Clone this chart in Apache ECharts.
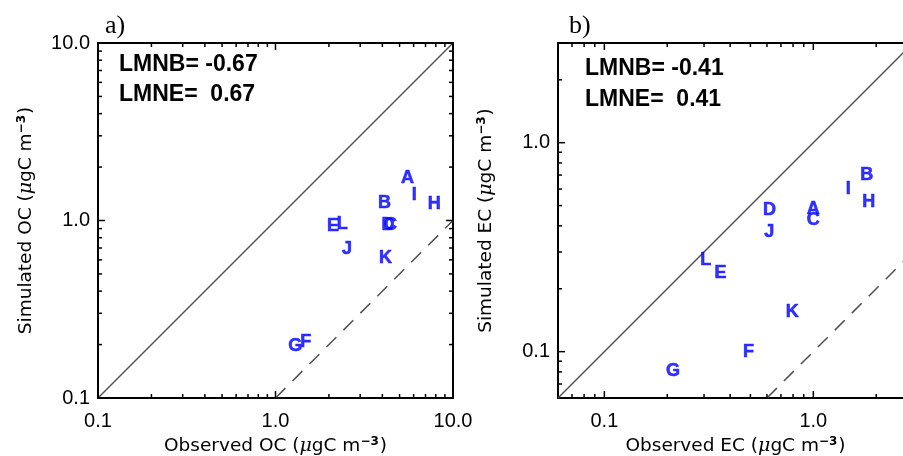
<!DOCTYPE html>
<html>
<head>
<meta charset="utf-8">
<script src="https://cdn.jsdelivr.net/npm/echarts@6/dist/echarts.min.js"></script>
<style>
  html, body { margin: 0; padding: 0; background: #fff; }
  #wrap { position: relative; width: 903px; height: 456px; }
  #chart, #ticks { position: absolute; left: 0; top: 0; width: 903px; height: 456px; }
  #ticks { pointer-events: none; }
</style>
</head>
<body>
<div id="wrap">
  <div id="chart"></div>
  <div id="ticks"></div>
</div>
<script>
// site letters, same order in both panels
const letters = ['A', 'B', 'C', 'D', 'E', 'F', 'G', 'H', 'I', 'J', 'K', 'L'];

// panel a) organic carbon
const ocObserved  = [5.54, 4.11, 4.45, 4.30, 2.11, 1.48, 1.29, 7.83, 6.04, 2.53, 4.17, 2.38];
const ocSimulated = [1.74, 1.26, 0.94, 0.94, 0.936, 0.208, 0.197, 1.24, 1.39, 0.695, 0.611, 0.952];

// panel b) elemental carbon
const ecObserved  = [1.00, 1.80, 1.00, 0.617, 0.360, 0.490, 0.213, 1.84, 1.47, 0.615, 0.794, 0.306];
const ecSimulated = [0.479, 0.698, 0.428, 0.478, 0.239, 0.0993, 0.081, 0.520, 0.598, 0.373, 0.155, 0.275];

// reference lines (1:1 solid, 1:10 dashed)
const ocOneToOne = [[0.1, 0.1], [10, 10]];
const ocOneToTen = [[1, 0.1], [10, 1]];
const ecOneToOne = [[0.06, 0.06], [3, 3]];
const ecOneToTen = [[0.6, 0.06], [3, 0.3]];

// axis ranges and ticks
const ocRange = [0.1, 10];
const ecRange = [0.06, 3];
const ocMajorTicks = [0.1, 1, 10];
const ocMinorTicks = [0.2, 0.3, 0.4, 0.5, 0.6, 0.7, 0.8, 0.9, 2, 3, 4, 5, 6, 7, 8, 9];
const ecMajorTicks = [0.1, 1];
const ecMinorTicks = [0.07, 0.08, 0.09, 0.2, 0.3, 0.4, 0.5, 0.6, 0.7, 0.8, 0.9, 2, 3];

const ocStats = ['LMNB= -0.67', 'LMNE=  0.67'];
const ecStats = ['LMNB= -0.41', 'LMNE=  0.41'];

const FONT = 'Liberation Sans';
const LINE_GRAY = '#505050';
const LETTER_BLUE = '#0000ff';
const MAJOR_LEN = 7;
const MINOR_LEN = 4;

const grids = [
  { left: 98, top: 43, width: 355, height: 355, outerBoundsMode: 'none' },
  { left: 558, top: 43, width: 355, height: 355, outerBoundsMode: 'none' }
];

const unitRich = {
  t: { fontFamily: 'DejaVu Sans', fontSize: 18.5, color: '#000' },
  mu: { fontFamily: 'DejaVu Serif', fontStyle: 'italic', fontSize: 19, color: '#000' },
  sup: { fontFamily: 'DejaVu Sans', fontSize: 12, fontWeight: 'bold', color: '#000', verticalAlign: 'top', padding: [0, 1, 8, 0] }
};
function unitName(label) {
  return '{t|' + label + ' (}{mu|μ}{t|gC m}{sup|−3}{t|)}';
}

// near axis carries labels and name, far axis only closes the frame
function makeAxes(dim, gridIndex, range, major, name, nameGap) {
  const base = {
    type: 'log',
    gridIndex: gridIndex,
    min: range[0],
    max: range[1],
    splitLine: { show: false },
    axisTick: { show: false },
    axisLine: { show: true, onZero: false, lineStyle: { color: '#000', width: 2 } }
  };
  return [
    Object.assign({}, base, {
      position: dim === 'x' ? 'bottom' : 'left',
      axisLabel: {
        show: true, customValues: major, margin: dim === 'x' ? 13 : 8,
        fontFamily: FONT, fontSize: 20, color: '#000',
        formatter: v => Number(v).toFixed(1)
      },
      name: unitName(name),
      nameLocation: 'middle',
      nameGap: nameGap,
      nameTextStyle: { rich: unitRich }
    }),
    Object.assign({}, base, {
      position: dim === 'x' ? 'top' : 'right',
      axisLabel: { show: false }
    })
  ];
}

function letterSeries(axisIdx, obs, sim) {
  return {
    type: 'scatter',
    xAxisIndex: axisIdx,
    yAxisIndex: axisIdx,
    symbolSize: 1,
    itemStyle: { color: 'rgba(0,0,0,0)' },
    label: {
      show: true, position: 'inside',
      formatter: p => p.data[2],
      fontFamily: FONT, fontWeight: 'bold', fontSize: 18, color: LETTER_BLUE,
      textBorderColor: LETTER_BLUE, textBorderWidth: 0.6
    },
    z: 5,
    data: obs.map((v, i) => [v, sim[i], letters[i]])
  };
}

function refLine(axisIdx, data, dashed) {
  return {
    type: 'line',
    xAxisIndex: axisIdx,
    yAxisIndex: axisIdx,
    symbol: 'none',
    silent: true,
    lineStyle: { color: LINE_GRAY, width: 1.5, type: dashed ? [14, 10] : 'solid' },
    data: data
  };
}

const chart = echarts.init(document.getElementById('chart'));
const statFont = 'bold 23px "Liberation Sans"';
chart.setOption({
  animation: false,
  grid: grids,
  xAxis: [].concat(
    makeAxes('x', 0, ocRange, ocMajorTicks, 'Observed OC', 36),
    makeAxes('x', 1, ecRange, ecMajorTicks, 'Observed EC', 36)
  ),
  yAxis: [].concat(
    makeAxes('y', 0, ocRange, ocMajorTicks, 'Simulated OC', 62),
    makeAxes('y', 1, ecRange, ecMajorTicks, 'Simulated EC', 62)
  ),
  graphic: [
    { type: 'text', left: 105, top: 13, style: { text: 'a)', font: '26px "Liberation Serif"', fill: '#000' } },
    { type: 'text', left: 569, top: 13, style: { text: 'b)', font: '26px "Liberation Serif"', fill: '#000' } },
    { type: 'text', left: 119, top: 53, style: { text: ocStats[0], font: statFont, fill: '#000' } },
    { type: 'text', left: 119, top: 83, style: { text: ocStats[1], font: statFont, fill: '#000' } },
    { type: 'text', left: 585, top: 57, style: { text: ecStats[0], font: statFont, fill: '#000' } },
    { type: 'text', left: 585, top: 88, style: { text: ecStats[1], font: statFont, fill: '#000' } }
  ],
  series: [
    refLine(0, ocOneToOne, false),
    refLine(0, ocOneToTen, true),
    letterSeries(0, ocObserved, ocSimulated),
    refLine(2, ecOneToOne, false),
    refLine(2, ecOneToTen, true),
    letterSeries(2, ecObserved, ecSimulated)
  ]
});

// tick marks: a second, bare chart over the first with the same grids and log scales
function bareAxis(gridIndex, range) {
  return {
    type: 'log', gridIndex: gridIndex, min: range[0], max: range[1],
    axisLine: { show: false, onZero: false }, axisTick: { show: false },
    axisLabel: { show: false }, splitLine: { show: false }
  };
}

function tickSeries(axisIdx, dim, xRange, yRange, major, minor) {
  const vals = major.map(v => [v, MAJOR_LEN]).concat(minor.map(v => [v, MINOR_LEN]));
  return {
    type: 'custom',
    xAxisIndex: axisIdx,
    yAxisIndex: axisIdx,
    silent: true,
    clip: false,
    encode: { x: 0, y: 1 },
    data: vals.map(t => dim === 'x' ? [t[0], yRange[0], t[1]] : [xRange[0], t[0], t[1]]),
    renderItem: (params, api) => {
      const len = api.value(2);
      if (dim === 'x') {
        const v = api.value(0);
        const p0 = api.coord([v, yRange[0]]);
        const p1 = api.coord([v, yRange[1]]);
        return { type: 'group', children: [
          { type: 'line', shape: { x1: p0[0], y1: p0[1], x2: p0[0], y2: p0[1] - len }, style: { stroke: '#000', lineWidth: 1.5 } },
          { type: 'line', shape: { x1: p1[0], y1: p1[1], x2: p1[0], y2: p1[1] + len }, style: { stroke: '#000', lineWidth: 1.5 } }
        ] };
      }
      const v = api.value(1);
      const p0 = api.coord([xRange[0], v]);
      const p1 = api.coord([xRange[1], v]);
      return { type: 'group', children: [
        { type: 'line', shape: { x1: p0[0], y1: p0[1], x2: p0[0] + len, y2: p0[1] }, style: { stroke: '#000', lineWidth: 1.5 } },
        { type: 'line', shape: { x1: p1[0], y1: p1[1], x2: p1[0] - len, y2: p1[1] }, style: { stroke: '#000', lineWidth: 1.5 } }
      ] };
    }
  };
}

const tickChart = echarts.init(document.getElementById('ticks'));
tickChart.setOption({
  animation: false,
  grid: grids,
  xAxis: [bareAxis(0, ocRange), bareAxis(1, ecRange)],
  yAxis: [bareAxis(0, ocRange), bareAxis(1, ecRange)],
  series: [
    tickSeries(0, 'x', ocRange, ocRange, ocMajorTicks, ocMinorTicks),
    tickSeries(0, 'y', ocRange, ocRange, ocMajorTicks, ocMinorTicks),
    tickSeries(1, 'x', ecRange, ecRange, ecMajorTicks, ecMinorTicks),
    tickSeries(1, 'y', ecRange, ecRange, ecMajorTicks, ecMinorTicks)
  ]
});

window.onresize = () => { chart.resize(); tickChart.resize(); };
</script>
</body>
</html>
